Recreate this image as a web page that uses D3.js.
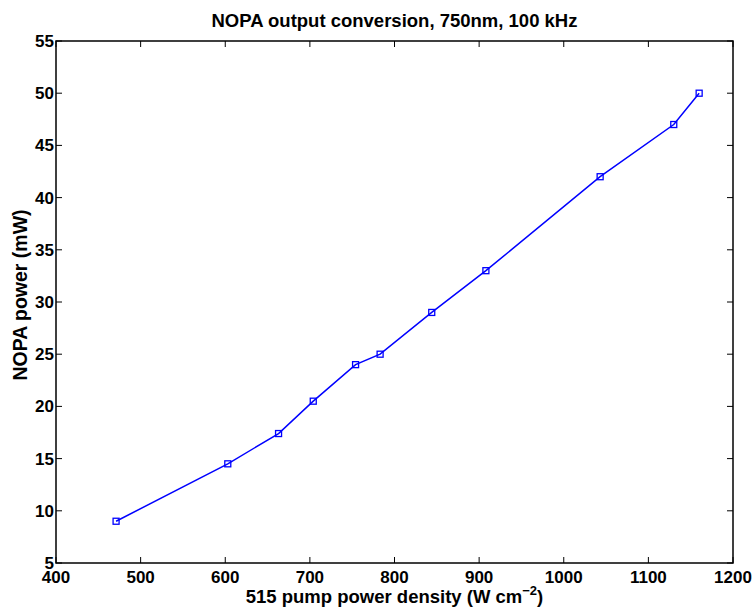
<!DOCTYPE html>
<html><head><meta charset="utf-8">
<script src="https://cdn.jsdelivr.net/npm/d3@7"></script>
<style>body{margin:0;background:#fff}svg{display:block}text{font-family:"Liberation Sans",Arial,sans-serif;font-weight:bold}</style>
</head><body><svg id="c" width="754" height="612"></svg>
<script>
const pumpDensity = [471, 603, 663, 704, 754, 783, 844, 908, 1043, 1130, 1160];
const nopaPower   = [9, 14.5, 17.4, 20.5, 24, 25, 29, 33, 42, 47, 50];
const xTicks = [400, 500, 600, 700, 800, 900, 1000, 1100, 1200];
const yTicks = [5, 10, 15, 20, 25, 30, 35, 40, 45, 50, 55];
const titleText = "NOPA output conversion, 750nm, 100 kHz";

const m = {l:56, r:733, t:41, b:563};
const svg = d3.select("#c");
const x = d3.scaleLinear().domain([400,1200]).range([m.l, m.r]);
const y = d3.scaleLinear().domain([5,55]).range([m.b, m.t]);

const g = svg.append("g");
const tl = 6, fs = 17;
xTicks.forEach(t=>{
  g.append("line").attr("x1",x(t)).attr("x2",x(t)).attr("y1",m.b).attr("y2",m.b-tl).attr("stroke","#000");
  g.append("line").attr("x1",x(t)).attr("x2",x(t)).attr("y1",m.t).attr("y2",m.t+tl).attr("stroke","#000");
  g.append("text").attr("x",x(t)).attr("y",m.b+20).attr("text-anchor","middle").attr("font-size",fs).text(t);
});
yTicks.forEach(t=>{
  g.append("line").attr("y1",y(t)).attr("y2",y(t)).attr("x1",m.l).attr("x2",m.l+tl).attr("stroke","#000");
  g.append("line").attr("y1",y(t)).attr("y2",y(t)).attr("x1",m.r).attr("x2",m.r-tl).attr("stroke","#000");
  g.append("text").attr("x",m.l-2).attr("y",y(t)+6).attr("text-anchor","end").attr("font-size",fs).text(t);
});
g.append("rect").attr("x",m.l).attr("y",m.t).attr("width",m.r-m.l).attr("height",m.b-m.t)
 .attr("fill","none").attr("stroke","#000").attr("stroke-width",1.5);

const data = pumpDensity.map((d,i)=>({x:d,y:nopaPower[i]}));
svg.append("path").datum(data)
  .attr("d", d3.line().x(d=>x(d.x)).y(d=>y(d.y)))
  .attr("fill","none").attr("stroke","#0000ff").attr("stroke-width",1.5);
svg.selectAll("rect.mk").data(data).enter().append("rect").attr("class","mk")
  .attr("x",d=>x(d.x)-3).attr("y",d=>y(d.y)-3).attr("width",6).attr("height",6)
  .attr("fill","none").attr("stroke","#0000ff").attr("stroke-width",1.3);

svg.append("text").attr("x",(m.l+m.r)/2).attr("y",27).attr("text-anchor","middle").attr("font-size",18.5).text(titleText);
const xl = svg.append("text").attr("x",(m.l+m.r)/2).attr("y",603).attr("text-anchor","middle").attr("font-size",18.5);
xl.append("tspan").text("515 pump power density (W cm");
xl.append("tspan").attr("dy",-8).attr("font-size",13).text("\u22122");
xl.append("tspan").attr("dy",8).text(")");
svg.append("text").attr("transform",`translate(27,295) rotate(-90)`).attr("text-anchor","middle").attr("font-size",19.5).text("NOPA power (mW)");
</script></body></html>
